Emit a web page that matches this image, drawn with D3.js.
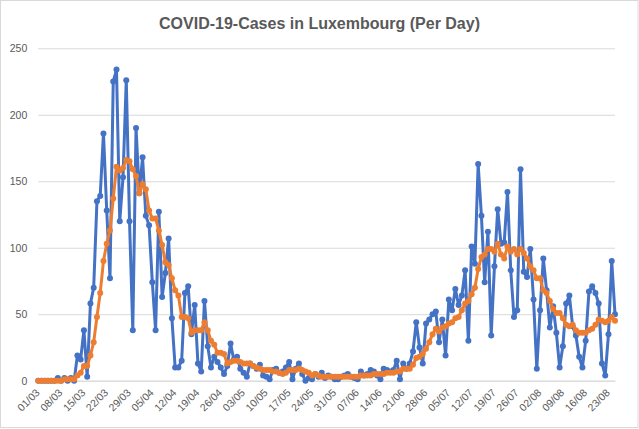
<!DOCTYPE html>
<html>
<head>
<meta charset="utf-8">
<script src="https://cdn.jsdelivr.net/npm/d3@7"></script>
<style>
  body { margin: 0; background: #fff; }
  svg text { font-family: "Liberation Sans", Arial, sans-serif; fill: #595959; }
</style>
</head>
<body>
<div id="chart"></div>
<script>
// Data (01/03 .. 25/08)
const firstDay = "01/03/2020";
const lastDay = "25/08/2020";

// new cases per day
const dailyCases = [
  0, 0, 0, 0, 0, 0, 2, 0, 2, 0, 2, 0,
  19, 16, 38, 3, 58, 70, 135, 139, 186, 128, 77, 225, 234, 120, 153, 226, 120, 38, 190, 141,
  168, 124, 117, 74, 38, 127, 63, 81, 107, 47, 10, 10, 15, 66, 71, 35, 57, 13, 7, 60, 26, 10, 18, 14, 10, 5, 11, 28,
  16, 18, 9, 6, 3, 13, 11, 9, 12, 4, 3, 1, 8, 9, 6, 7, 10, 14, 1, 9, 13, 5, 0, 2, 1, 5, 3, 6, 2, 4,
  3, 1, 1, 3, 4, 5, 3, 2, 1, 7, 4, 5, 8, 7, 4, 1, 9, 8, 7, 8, 15, 1, 13, 9, 13,
  22, 44, 25, 13, 43, 46, 50, 52, 29, 46, 19, 61, 53, 69, 57, 64, 83, 30, 101, 88, 163, 124, 74, 112, 34, 86, 129, 103, 104, 142, 83, 48, 53, 159,
  82, 78, 99, 61, 9, 53, 92, 68, 40, 56, 36, 10, 26, 58, 64, 41, 34, 18, 10, 30, 67, 71, 66, 58, 13, 4, 35, 90, 50
];

// orange line (weekly average)
const averageCases = [
  0, 0, 0, 0, 0, 0, 0, 0, 1, 1, 1, 1,
  4, 6, 11, 11, 19, 29, 48, 66, 90, 103, 113, 137, 161, 158, 160, 166, 165, 159, 154, 141,
  148, 144, 128, 122, 122, 113, 102, 89, 87, 77, 68, 64, 48, 48, 47, 36, 38, 38, 38, 44, 38, 30, 27, 21, 21, 20, 13, 14,
  15, 15, 14, 13, 13, 13, 11, 10, 9, 8, 8, 8, 7, 7, 6, 5, 6, 8, 8, 8, 9, 8, 7, 6, 4, 5, 4, 3, 3, 3,
  3, 3, 3, 3, 3, 3, 3, 3, 3, 4, 4, 4, 4, 5, 5, 5, 5, 6, 6, 6, 7, 7, 9, 9, 9,
  12, 17, 18, 20, 24, 29, 35, 39, 37, 40, 41, 43, 44, 47, 48, 53, 58, 60, 65, 70, 84, 93, 95, 99, 99, 97, 103, 95, 92, 101, 97, 99, 95, 99,
  96, 92, 86, 83, 77, 77, 68, 66, 60, 54, 51, 51, 47, 42, 41, 42, 38, 36, 36, 36, 38, 39, 42, 46, 45, 44, 45, 48, 45
];

const yTicks = [0, 50, 100, 150, 200, 250];
const xTickLabels = [
  "01/03", "08/03", "15/03", "22/03", "29/03", "05/04", "12/04", "19/04", "26/04",
  "03/05", "10/05", "17/05", "24/05", "31/05", "07/06", "14/06", "21/06", "28/06",
  "05/07", "12/07", "19/07", "26/07", "02/08", "09/08", "16/08", "23/08"
];

const width = 639, height = 429;
const margin = { top: 48.3, right: 24, bottom: 48.3, left: 38.3 };
const innerWidth = width - margin.left - margin.right;
const innerHeight = height - margin.top - margin.bottom;

const parseDay = d3.timeParse("%d/%m/%Y");
const start = parseDay(firstDay);
const end = parseDay(lastDay);
const dates = d3.timeDay.range(start, d3.timeDay.offset(end, 1));

const svg = d3.select("#chart")
  .append("svg")
  .attr("width", width)
  .attr("height", height)
  .style("display", "block");

// chart border
svg.append("rect")
  .attr("x", 0.5).attr("y", 0.5)
  .attr("width", width - 1.5).attr("height", height - 2)
  .attr("fill", "none")
  .attr("stroke", "#d9d9d9");

// title
svg.append("text")
  .attr("x", 319.5)
  .attr("y", 29)
  .attr("text-anchor", "middle")
  .style("font-size", "16px")
  .style("font-weight", "bold")
  .text("COVID-19-Cases in Luxembourg (Per Day)");

const g = svg.append("g")
  .attr("transform", `translate(${margin.left},${margin.top})`);

const x = d3.scaleTime().domain([start, end]).range([0, innerWidth]);
const y = d3.scaleLinear().domain([0, 250]).range([innerHeight, 0]);

// gridlines + y labels
const yAxis = g.append("g")
  .call(d3.axisLeft(y).tickValues(yTicks).tickSize(-innerWidth).tickPadding(11));
yAxis.select(".domain").remove();
yAxis.selectAll("line").attr("stroke", "#d9d9d9");
yAxis.selectAll("text")
  .style("font-size", "10.5px")
  .attr("fill", "#595959");

// x labels
const tickDates = xTickLabels.map(s => parseDay(s + "/2020"));
const xAxis = g.append("g")
  .attr("transform", `translate(0,${innerHeight})`)
  .call(d3.axisBottom(x).tickValues(tickDates).tickSize(0).tickFormat((d, i) => xTickLabels[i]));
xAxis.select(".domain").attr("stroke", "#d9d9d9");
xAxis.selectAll("text")
  .style("font-size", "10.5px")
  .attr("fill", "#595959")
  .attr("text-anchor", "end")
  .attr("y", 0)
  .attr("dy", "0.35em")
  .attr("transform", "translate(-1,10) rotate(-45)");

// series
const line = d3.line()
  .x((d, i) => x(dates[i]))
  .y(d => y(d));

function drawSeries(values, color) {
  g.append("path")
    .datum(values)
    .attr("fill", "none")
    .attr("stroke", color)
    .attr("stroke-width", 3)
    .attr("stroke-linejoin", "round")
    .attr("d", line);

  g.append("g")
    .selectAll("circle")
    .data(values)
    .join("circle")
    .attr("cx", (d, i) => x(dates[i]))
    .attr("cy", d => y(d))
    .attr("r", 3)
    .attr("fill", color);
}

drawSeries(dailyCases, "#4472c4");
drawSeries(averageCases, "#ed7d31");
</script>
</body>
</html>
